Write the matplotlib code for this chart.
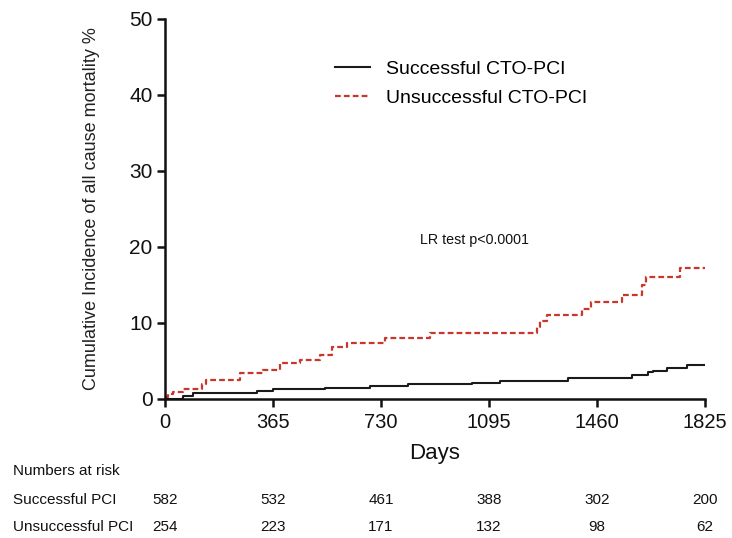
import matplotlib
matplotlib.use("Agg")
import matplotlib.pyplot as plt
from matplotlib.lines import Line2D

plt.rcParams['font.family'] = ['Liberation Sans', 'DejaVu Sans']

# Data
days_succ = [0, 60, 95, 311, 365, 541, 693, 821, 1037, 1132, 1362, 1578, 1632, 1649, 1696, 1764, 1825]
pct_succ = [0.0, 0.4, 0.8, 1.05, 1.3, 1.5, 1.75, 2.0, 2.15, 2.4, 2.7, 3.1, 3.5, 3.7, 4.1, 4.5, 4.5]

days_unsucc = [0, 10, 27, 61, 125, 140, 253, 331, 389, 456, 524, 564, 615, 743, 896,
               1257, 1268, 1290, 1409, 1440, 1544, 1612, 1625, 1740, 1825]
pct_unsucc = [0.3, 0.6, 0.9, 1.3, 2.0, 2.5, 3.4, 3.8, 4.7, 5.1, 5.8, 6.8, 7.4, 8.0, 8.7,
              9.5, 10.3, 11.0, 11.8, 12.8, 13.7, 15.0, 16.0, 17.3, 17.3]

x_ticks = [0, 365, 730, 1095, 1460, 1825]
y_ticks = [0, 10, 20, 30, 40, 50]

risk_labels = ["Successful PCI", "Unsuccessful PCI"]
risk_succ = [582, 532, 461, 388, 302, 200]
risk_unsucc = [254, 223, 171, 132, 98, 62]

W, H = 732, 538
fig = plt.figure(figsize=(W / 100, H / 100), dpi=100)
ax = fig.add_axes([165 / W, 1 - 399 / H, 540 / W, 380 / H])

red = '#c8372d'
dash = (0, (2.6, 1.4))
ax.step(days_succ, pct_succ, where='post', color='#1a1a1a', lw=1.5)
ax.step(days_unsucc, pct_unsucc, where='post', color=red, lw=1.6, linestyle=dash)

ax.set_xlim(0, 1825)
ax.set_ylim(0, 50)
ax.set_xticks(x_ticks)
ax.set_yticks(y_ticks)
ax.set_xticklabels([str(v) for v in x_ticks], fontsize=14.5)
ax.set_yticklabels([str(v) for v in y_ticks], fontsize=15)
for s in ['top', 'right']:
    ax.spines[s].set_visible(False)
for s in ['left', 'bottom']:
    ax.spines[s].set_linewidth(1.8)
    ax.spines[s].set_color('#111111')
ax.tick_params(axis='both', direction='out', length=6, width=1.8, color='#111111', labelcolor='#111111', pad=3)
ax.tick_params(axis='x', pad=4)

ax.set_xlabel("Days", fontsize=16, color='#111111', labelpad=8)
ax.set_ylabel("Cumulative Incidence of all cause mortality %", fontsize=13, color='#222222', labelpad=21)

ax.text(1045, 20.9, "LR test p<0.0001", fontsize=10.3, ha='center', va='center', color='#111111')

handles = [Line2D([], [], color='#1a1a1a', lw=1.5),
           Line2D([], [], color=red, lw=1.6, linestyle=dash)]
fig.legend(handles, ["Successful CTO-PCI", "Unsuccessful CTO-PCI"],
           loc='upper left', bbox_to_anchor=(335 / W, 1 - 60 / H),
           frameon=False, fontsize=14, handlelength=1.8, handletextpad=0.8,
           labelspacing=0.62, borderpad=0, borderaxespad=0)

# Numbers at risk table
fig.text(13 / W, 1 - 471 / H, "Numbers at risk", fontsize=11, va='center', ha='left', color='#111111')
row_y = [500, 527]
for lab, vals, yy in zip(risk_labels, [risk_succ, risk_unsucc], row_y):
    fig.text(13 / W, 1 - yy / H, lab, fontsize=11, va='center', ha='left', color='#111111')
    for xv, v in zip(x_ticks, vals):
        xf = fig.transFigure.inverted().transform(ax.transData.transform((xv, 0)))[0]
        fig.text(xf, 1 - yy / H, str(v), fontsize=11, va='center', ha='center', color='#111111')

fig.savefig("out.png", dpi=100, facecolor='white')
